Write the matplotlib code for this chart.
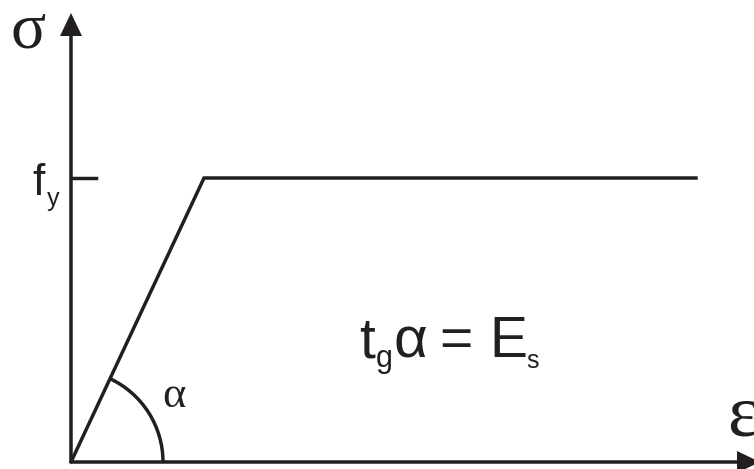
import numpy as np
import matplotlib
matplotlib.use("Agg")
import matplotlib.pyplot as plt
from matplotlib.patches import Arc

# elastic-perfectly plastic steel diagram (schematic units, 1 unit ~ 100 px)
strain = [0.0, 1.33, 6.25]
stress = [0.0, 2.84, 2.84]
fy = 2.84
eps_axis_end = 6.89
sig_axis_end = 4.49
arc_radius = 0.92

ink = '#231f20'
lw = 2.5

fig = plt.figure(figsize=(7.54, 4.69), dpi=100)
ax = fig.add_axes([0, 0, 1, 1])
ax.set_xlim(-0.71, 6.83)
ax.set_ylim(-0.07, 4.62)
ax.axis('off')

# axes with arrows
ax.arrow(0, 0, eps_axis_end, 0, width=0.035, head_width=0.22, head_length=0.23,
         length_includes_head=True, color=ink, lw=0)
ax.arrow(0, 0, 0, sig_axis_end, width=0.035, head_width=0.22, head_length=0.23,
         length_includes_head=True, color=ink, lw=0)

# stress-strain curve
ax.plot(strain, stress, color=ink, lw=lw, solid_joinstyle='miter')
ax.plot([0, 0.25], [fy, fy], color=ink, lw=lw)

# angle arc
alpha_deg = np.degrees(np.arctan2(stress[1], strain[1]))
ax.add_patch(Arc((0, 0), 2 * arc_radius, 2 * arc_radius, theta1=0, theta2=alpha_deg,
                 color=ink, lw=lw))

serif = 'Liberation Serif'
sans = 'Liberation Sans'

# greek axis labels (epsilon runs off the right edge, as in the original)
ax.text(-0.425, 4.15, '\u03c3', fontsize=47, family=serif, color=ink,
        ha='center', va='baseline')
ax.text(6.56, 0.27, '\u03b5', fontsize=54, family=serif, color=ink,
        ha='left', va='baseline')
ax.text(0.91, 0.55, '\u03b1', fontsize=32, family=serif, color=ink, ha='left', va='baseline')

ax.text(-0.39, 2.67, 'f', fontsize=32, family=sans, color=ink, ha='left', va='baseline')
ax.text(-0.24, 2.56, 'y', fontsize=18, family=sans, color=ink, ha='left', va='baseline')

# tg(alpha) = Es
ax.text(2.88, 1.05, 't', fontsize=41, family=sans, color=ink, ha='left', va='baseline')
ax.text(3.05, 0.95, 'g', fontsize=22, family=sans, color=ink, ha='left', va='baseline')
ax.text(3.22, 1.05, '\u03b1', fontsize=42, family=sans, color=ink, ha='left', va='baseline')
ax.text(3.68, 1.05, '=', fontsize=41, family=sans, color=ink, ha='left', va='baseline')
ax.text(4.18, 1.05, 'E', fontsize=41, family=sans, color=ink, ha='left', va='baseline')
ax.text(4.55, 0.94, 's', fontsize=18, family=sans, color=ink, ha='left', va='baseline')

fig.savefig('out.png', dpi=100)
